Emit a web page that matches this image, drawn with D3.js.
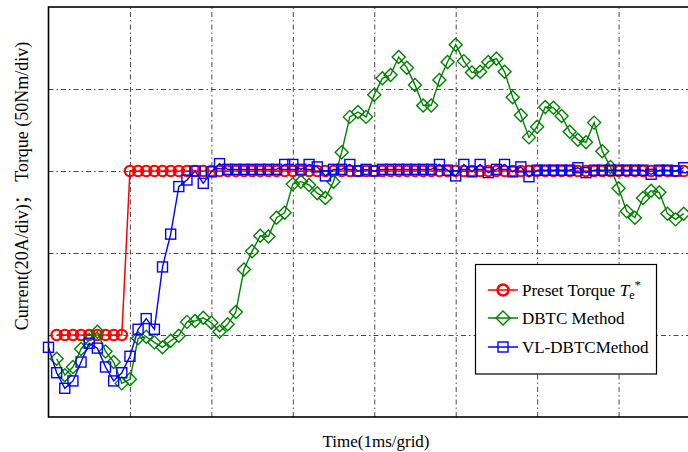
<!DOCTYPE html>
<html>
<head>
<meta charset="utf-8">
<script src="https://cdn.jsdelivr.net/npm/d3@7"></script>
<style>
  html, body { margin: 0; padding: 0; background: #fff; }
  svg { display: block; }
  text { font-family: "Liberation Serif", "Times New Roman", serif; fill: #000; }
</style>
</head>
<body>
<svg id="chart" width="688" height="452"></svg>
<script>
// ---- data (y in divisions, x in grid units = ms) ----
const samplePeriod = 0.1;          // ms between samples
const xGridTicks = [1, 2, 3, 4, 5, 6, 7];
const yGridTicks = [1, 2, 3, 4];
const seriesNames = ["Preset Torque", "DBTC Method", "VL-DBTCMethod"];

const presetStartIndex = 1;
const presetTorque = [1,1,1,1,1,1,1,1,1,
  3,3,3,3,3,3,3,3,3,3, 3,3,3,3,3,3,3,3,3,3, 3,3,3,3,3,3,3,3,3,3,
  3,3,3,3,3,3,3,3,3,3, 3,3,3,3,3,3,3,3,3,3, 3,3,3,3,3,3,3,3,3,3,
  3,3,3,3,3,3,3,3,3];

const dbtcStartIndex = 1;
const dbtc = [0.71,0.51,0.61,0.83,0.94,1.04,0.80,0.67,0.41,0.46,
  0.96,0.98,0.91,0.85,0.93,0.99,1.16,1.17,1.21,1.15,
  1.04,1.13,1.28,1.80,2.02,2.21,2.20,2.43,2.49,2.84,
  2.87,2.83,2.73,2.67,2.87,3.23,3.66,3.72,3.66,3.93,
  4.13,4.17,4.39,4.26,4.05,3.80,3.80,4.11,4.33,4.54,
  4.34,4.20,4.21,4.33,4.37,4.21,3.90,3.68,3.41,3.54,
  3.78,3.77,3.67,3.48,3.38,3.35,3.59,3.24,3.05,2.79,
  2.51,2.43,2.67,2.76,2.74,2.48,2.41,2.48];

const vlStartIndex = 0;
const vlDbtc = [0.85,0.54,0.35,0.44,0.67,0.90,0.84,0.61,0.44,0.54,
  0.74,1.07,1.20,1.07,1.83,2.23,2.81,2.89,3.00,2.85,
  2.99,3.09,3.02,3.02,3.02,3.02,3.02,3.02,3.02,3.08,
  3.08,3.02,3.08,3.05,2.94,3.02,3.02,3.08,3.00,3.02,
  3.00,3.02,3.02,3.02,3.02,3.02,3.02,3.02,3.08,3.01,
  2.94,3.08,2.99,3.08,2.98,3.02,3.08,2.99,3.05,2.93,
  3.01,3.01,3.01,3.01,3.01,3.04,2.98,3.01,3.01,3.01,
  3.01,3.01,3.01,3.01,2.96,3.01,3.01,3.00,3.04];

// ---- layout ----
const plot = { left: 48.5, right: 700, top: 7, bottom: 417 };
const svg = d3.select("#chart");

const x = d3.scaleLinear().domain([0, 8]).range([plot.left, plot.right]);
const y = d3.scaleLinear().domain([0, 5]).range([plot.bottom, plot.top]);

const toPoints = (vals, start) => vals.map((v, i) => ({ t: (start + i) * samplePeriod, v }));
const redPts = toPoints(presetTorque, presetStartIndex);
const greenPts = toPoints(dbtc, dbtcStartIndex);
const bluePts = toPoints(vlDbtc, vlStartIndex);

// grid via axes
const gx = svg.append("g").attr("transform", `translate(0,${plot.bottom})`)
  .call(d3.axisBottom(x).tickValues(xGridTicks).tickSize(-(plot.bottom - plot.top)).tickFormat(""));
const gy = svg.append("g").attr("transform", `translate(${plot.left},0)`)
  .call(d3.axisLeft(y).tickValues(yGridTicks).tickSize(-(plot.right - plot.left)).tickFormat(""));
[gx, gy].forEach(g => {
  g.select(".domain").remove();
  g.selectAll(".tick line").attr("stroke", "#4a4a4a").attr("stroke-width", 1)
    .attr("stroke-dasharray", "5,3,1.5,3");
});

// frame
svg.append("rect").attr("x", plot.left).attr("y", plot.top)
  .attr("width", plot.right - plot.left).attr("height", plot.bottom - plot.top)
  .attr("fill", "none").attr("stroke", "#000").attr("stroke-width", 1.6);

const line = d3.line().x(d => x(d.t)).y(d => y(d.v));

// red preset
svg.append("path").datum(redPts).attr("d", line).attr("fill", "none")
  .attr("stroke", "#ff0000").attr("stroke-width", 1.5);
svg.append("g").selectAll("circle").data(redPts).join("circle")
  .attr("cx", d => x(d.t)).attr("cy", d => y(d.v)).attr("r", 5.2)
  .attr("fill", "none").attr("stroke", "#ff0000").attr("stroke-width", 2.1);

// green DBTC
const diamond = (cx, cy, s) => `M${cx},${cy - s}L${cx + s},${cy}L${cx},${cy + s}L${cx - s},${cy}Z`;
svg.append("path").datum(greenPts).attr("d", line).attr("fill", "none")
  .attr("stroke", "#008000").attr("stroke-width", 1.4);
svg.append("g").selectAll("path").data(greenPts).join("path")
  .attr("d", d => diamond(x(d.t), y(d.v), 6.5))
  .attr("fill", "none").attr("stroke", "#008000").attr("stroke-width", 1.4);

// blue VL-DBTC
svg.append("path").datum(bluePts).attr("d", line).attr("fill", "none")
  .attr("stroke", "#0000ff").attr("stroke-width", 1.4);
svg.append("g").selectAll("rect").data(bluePts).join("rect")
  .attr("x", d => x(d.t) - 5).attr("y", d => y(d.v) - 5).attr("width", 10).attr("height", 10)
  .attr("fill", "none").attr("stroke", "#0000ff").attr("stroke-width", 1.4);

// axis labels
svg.append("text").attr("x", 376).attr("y", 447).attr("text-anchor", "middle")
  .attr("font-size", 17).text("Time(1ms/grid)");
const yl = svg.append("text").attr("transform", "translate(28,186) rotate(-90)")
  .attr("text-anchor", "middle").attr("font-size", 18);
yl.append("tspan").text("Current(20A/div)");
yl.append("tspan").style("font-family", "'Noto Sans CJK SC'").text("；");
yl.append("tspan").text("\u00a0Torque (50Nm/div)");

// legend
const lg = svg.append("g");
lg.append("rect").attr("x", 475.5).attr("y", 264.5).attr("width", 181).attr("height", 109.5)
  .attr("fill", "#fff").attr("stroke", "#000").attr("stroke-width", 1.2);
const rows = [
  { y: 290, color: "#ff0000", kind: "circle" },
  { y: 318, color: "#008000", kind: "diamond" },
  { y: 347, color: "#0000ff", kind: "square" }
];
rows.forEach((r, i) => {
  lg.append("line").attr("x1", 488).attr("x2", 518).attr("y1", r.y).attr("y2", r.y)
    .attr("stroke", r.color).attr("stroke-width", 1.5);
  if (r.kind === "circle") {
    lg.append("circle").attr("cx", 503).attr("cy", r.y).attr("r", 5.5)
      .attr("fill", "none").attr("stroke", r.color).attr("stroke-width", 2.5);
  } else if (r.kind === "diamond") {
    lg.append("path").attr("d", diamond(503, r.y, 7)).attr("fill", "none")
      .attr("stroke", r.color).attr("stroke-width", 1.4);
  } else {
    lg.append("rect").attr("x", 498).attr("y", r.y - 5).attr("width", 10).attr("height", 10)
      .attr("fill", "none").attr("stroke", r.color).attr("stroke-width", 1.4);
  }
  const t = lg.append("text").attr("x", 522).attr("y", r.y + 6).attr("font-size", 17);
  if (i === 0) {
    t.append("tspan").text(seriesNames[0] + " ");
    t.append("tspan").attr("font-style", "italic").text("T");
    t.append("tspan").attr("font-size", 12).attr("dy", 3).text("e");
    t.append("tspan").attr("font-size", 13).attr("dy", -10).text("*");
  } else {
    t.text(seriesNames[i]);
  }
});
</script>
</body>
</html>
